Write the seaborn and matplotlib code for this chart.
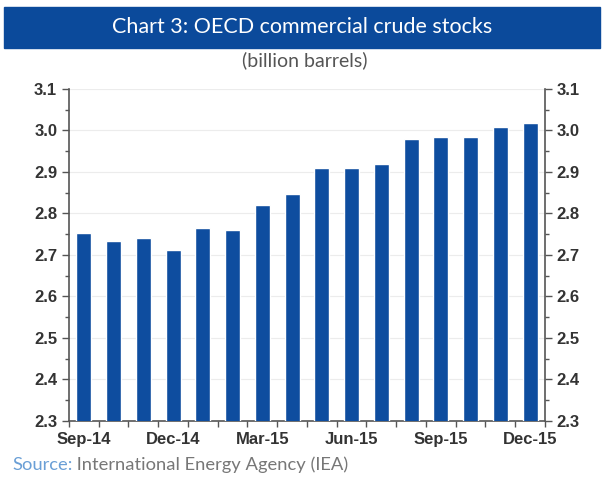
import matplotlib
matplotlib.use("Agg")
import matplotlib.pyplot as plt
import matplotlib.patches as mpatches
from matplotlib.ticker import FormatStrFormatter, MultipleLocator
import seaborn as sns
import pandas as pd
import numpy as np

# data (billion barrels)
months = ["Sep-14", "Oct-14", "Nov-14", "Dec-14", "Jan-15", "Feb-15", "Mar-15", "Apr-15",
          "May-15", "Jun-15", "Jul-15", "Aug-15", "Sep-15", "Oct-15", "Nov-15", "Dec-15"]
stocks = [2.754, 2.734, 2.740, 2.712, 2.766, 2.760, 2.820, 2.847,
          2.909, 2.909, 2.919, 2.979, 2.985, 2.985, 3.008, 3.017]
shown_labels = ["Sep-14", "Dec-14", "Mar-15", "Jun-15", "Sep-15", "Dec-15"]

title = "Chart 3: OECD commercial crude stocks"
subtitle = "(billion barrels)"
source_head = "Source:"
source_body = " International Energy Agency (IEA)"

bar_blue = "#0e4d9f"
banner_blue = "#0b4a9b"

df = pd.DataFrame({"month": months, "stocks": stocks})

sns.set_style("white")
plt.rcParams["font.family"] = ["Liberation Sans", "DejaVu Sans"]

fig = plt.figure(figsize=(6.04, 4.79), dpi=100)
ax = fig.add_axes([0.1142, 0.1211, 0.9023 - 0.1142, 0.8142 - 0.1211])

# bars hang from the 2.3 floor of the axis
sns.barplot(data=df, x="month", y="stocks", color=bar_blue, width=0.5,
            saturation=1, ax=ax, zorder=3)

ax.set_ylim(2.3, 3.1)
ax.set_xlim(-0.5, len(months) - 0.5)
ax.yaxis.set_major_locator(MultipleLocator(0.1))
ax.yaxis.set_minor_locator(MultipleLocator(0.05))
ax.yaxis.set_major_formatter(FormatStrFormatter("%.1f"))

pos = [months.index(m) for m in shown_labels]
ax.set_xticks(pos)
ax.set_xticklabels(shown_labels)
ax.set_xticks(np.arange(-0.5, len(months), 1), minor=True)
ax.set_xlabel("")
ax.set_ylabel("")

ax.grid(axis="y", color="#ececec", lw=0.8, zorder=0)
ax.set_axisbelow(True)

for side in ["left", "right", "bottom"]:
    ax.spines[side].set_visible(True)
    ax.spines[side].set_color("#555555")
    ax.spines[side].set_linewidth(1.2)
ax.spines["top"].set_visible(False)

ax.tick_params(axis="y", which="both", left=True, right=True, labelleft=True,
               labelright=True, direction="out", colors="#555555", labelcolor="#333333",
               labelsize=12)
ax.tick_params(axis="y", which="major", length=5, width=1)
ax.tick_params(axis="y", which="minor", length=3, width=1)
ax.tick_params(axis="x", which="major", length=0, pad=8, labelsize=12, labelcolor="#333333")
ax.tick_params(axis="x", which="minor", bottom=True, length=4, width=1, direction="out",
               color="#555555")
for lab in ax.get_xticklabels() + ax.get_yticklabels():
    lab.set_fontweight("bold")

# title banner
fig.patches.append(mpatches.Rectangle((0.0066, 0.8998), 0.9868, 0.0856,
                                      transform=fig.transFigure, color=banner_blue,
                                      zorder=0))
fig.text(0.5, 0.9426, title, ha="center", va="center", color="white",
         fontsize=15.5, family="Lato")
fig.text(0.505, 0.874, subtitle, ha="center", va="center", color="#555555",
         fontsize=14, family="Lato")

# source line, two colours
t1 = fig.text(0.02, 0.03, source_head, ha="left", va="center", color="#6a9fd6",
              fontsize=13.2, family="Lato")
ax.annotate(source_body, xy=(1, 0.5), xycoords=t1, ha="left", va="center",
            color="#777777", fontsize=13.2, family="Lato", annotation_clip=False)

fig.savefig("out.png", dpi=100)
